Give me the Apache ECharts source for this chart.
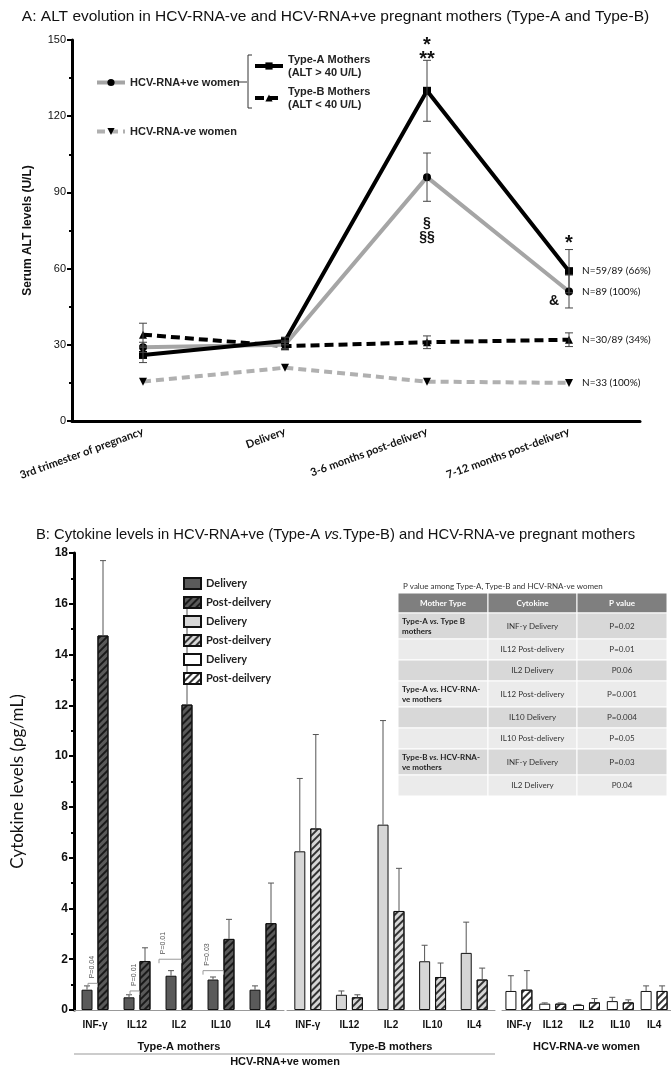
<!DOCTYPE html>
<html>
<head>
<meta charset="utf-8">
<script src="https://cdn.jsdelivr.net/npm/echarts@6/dist/echarts.min.js"></script>
<style>
html, body { margin: 0; padding: 0; background: #fff; }
#chart { width: 671px; height: 1069px; }
</style>
</head>
<body>
<div id="chart"></div>
<script>
// ---- panel A: ALT over time ----
const timepoints = ['3rd trimester of pregnancy', 'Delivery', '3-6 months post-delivery', '7-12 months post-delivery'];
const altTypeA = [26, 31.5, 130, 59];
const altTypeAErr = [3, 1.5, 12, 8.5];
const altPositive = [29, 30, 96, 51];
const altPositiveErr = [2, 1.5, 9.5, 6.5];
const altTypeB = [34, 29.5, 31, 32];
const altTypeBErr = [4.5, 1.5, 2.5, 2.7];
const altNegative = [15.5, 21, 15.5, 15];
const endNotes = ['N=59/89 (66%)', 'N=89 (100%)', 'N=30/89 (34%)', 'N=33 (100%)'];

// significance marks on panel A
const markCat = [2, 2, 3, 3];
const markValue = [145, 75, 70, 47];
const markText = ['*\n**', '§\n§§', '*', '&'];

// ---- panel B: cytokines ----
const cytokines = ['INF-γ', 'IL12', 'IL2', 'IL10', 'IL4'];
const typeADelivery = [0.8, 0.5, 1.35, 1.2, 0.8];
const typeADeliveryErr = [0.15, 0.1, 0.2, 0.1, 0.15];
const typeAPost = [14.75, 1.93, 12.03, 2.8, 3.42];
const typeAPostErr = [2.95, 0.52, 4.0, 0.77, 1.58];
const typeBDelivery = [6.25, 0.6, 7.3, 1.92, 2.25];
const typeBDeliveryErr = [2.87, 0.15, 4.1, 0.63, 1.21];
const typeBPost = [7.15, 0.5, 3.9, 1.3, 1.2];
const typeBPostErr = [3.7, 0.1, 1.68, 0.55, 0.45];
const negDelivery = [0.75, 0.25, 0.2, 0.35, 0.75];
const negDeliveryErr = [0.6, 0.03, 0.02, 0.15, 0.2];
const negPost = [0.8, 0.25, 0.3, 0.3, 0.75];
const negPostErr = [0.75, 0.03, 0.15, 0.1, 0.2];

// P values between delivery / post bars of type-A
const pCat = [0, 1, 2, 3];
const pLevel = [1.05, 0.75, 2.0, 1.55];
const pShift = [-3, -3, -16, -14];
const pText = ['P=0.04', 'P=0.01', 'P=0.01', 'P=0.03'];

// table of P values
const tableHead = ['Mother Type', 'Cytokine', 'P value'];
const tableGroup = ['Type-A|vs.|Type B|mothers', '', '', 'Type-A|vs.|HCV-RNA-|ve mothers', '', '', 'Type-B|vs.|HCV-RNA-|ve mothers', ''];
const tableCytokine = ['INF-γ Delivery', 'IL12 Post-delivery', 'IL2 Delivery', 'IL12 Post-delivery', 'IL10 Delivery', 'IL10 Post-delivery', 'INF-γ Delivery', 'IL2 Delivery'];
const tablePValue = ['P=0.02', 'P=0.01', 'P0.06', 'P=0.001', 'P=0.004', 'P=0.05', 'P=0.03', 'P0.04'];

const ARIAL = '"Liberation Sans", Arial, sans-serif';
const CALI = 'Lato, "Open Sans", sans-serif';

const chart = echarts.init(document.getElementById('chart'));

const hatch = color => ({
    symbol: 'rect', symbolSize: 1,
    dashArrayX: [1, 0], dashArrayY: [1.4, 3],
    rotation: -Math.PI / 4, color: color
});

const lastLabel = (arr, note) => arr.map((v, i) => i === arr.length - 1
    ? { value: v, label: { show: true, position: 'right', distance: 9, formatter: note, fontFamily: CALI, fontSize: 10, color: '#111' } }
    : v);

function barSeries(name, idx, data, color, hatched, hatchColor) {
    const itemStyle = { color: color, borderColor: '#111', borderWidth: 1 };
    if (hatched) itemStyle.decal = hatch(hatchColor);
    return {
        name: name, type: 'bar', xAxisIndex: idx, yAxisIndex: idx, data: data,
        barWidth: 11, barGap: '45%', itemStyle: itemStyle, z: 2
    };
}

function errorSeries(idx, del, delErr, post, postErr) {
    const data = [];
    del.forEach((v, i) => data.push([i, v, delErr[i], -1]));
    post.forEach((v, i) => data.push([i, v, postErr[i], 1]));
    return {
        type: 'custom', xAxisIndex: idx, yAxisIndex: idx, data: data, z: 3, silent: true,
        encode: { x: 0, y: 1 },
        renderItem: (params, api) => {
            const base = api.coord([api.value(0), api.value(1)]);
            const top = api.coord([api.value(0), api.value(1) + api.value(2)]);
            const x = base[0] + api.value(3) * 8;
            const st = { stroke: '#555', lineWidth: 1 };
            return { type: 'group', children: [
                { type: 'line', shape: { x1: x, y1: base[1], x2: x, y2: top[1] }, style: st },
                { type: 'line', shape: { x1: x - 3, y1: top[1], x2: x + 3, y2: top[1] }, style: st }
            ] };
        }
    };
}

// error bars for panel A lines
const altErrData = [];
[[altTypeA, altTypeAErr], [altPositive, altPositiveErr], [altTypeB, altTypeBErr]].forEach(pair => {
    pair[0].forEach((v, i) => altErrData.push([i, v, pair[1][i]]));
});

// table graphics
function buildTable() {
    const x0 = 398, y0 = 593;
    const colW = [90, 89, 90];
    const headH = 20;
    const rowH = [26, 21, 21, 26, 21, 21, 26, 21];
    const kids = [];
    kids.push({ type: 'text', x: x0 + 5, y: y0 - 7, style: { text: 'P value among Type-A, Type-B and HCV-RNA-ve women', font: '8px ' + CALI, fill: '#333', textVerticalAlign: 'middle' } });
    let cx = x0;
    tableHead.forEach((h, c) => {
        kids.push({ type: 'rect', shape: { x: cx, y: y0, width: colW[c], height: headH }, style: { fill: '#7f7f7f', stroke: '#fff', lineWidth: 1 } });
        kids.push({ type: 'text', x: cx + colW[c] / 2, y: y0 + headH / 2, style: { text: h, font: 'bold 8px ' + CALI, fill: '#fff', textAlign: 'center', textVerticalAlign: 'middle' } });
        cx += colW[c];
    });
    let cy = y0 + headH;
    rowH.forEach((h, r) => {
        const fill = r % 2 === 0 ? '#d8d8d8' : '#ebebeb';
        let rx = x0;
        colW.forEach(w => {
            kids.push({ type: 'rect', shape: { x: rx, y: cy, width: w, height: h }, style: { fill: fill, stroke: '#fff', lineWidth: 1 } });
            rx += w;
        });
        if (tableGroup[r]) {
            const p = tableGroup[r].split('|');
            kids.push({ type: 'text', x: x0 + 4, y: cy + 3, style: {
                text: '{b|' + p[0] + ' }{i|' + p[1] + '}{b| ' + p[2] + '}\n{b|' + p[3] + '}',
                rich: {
                    b: { font: 'bold 8px ' + CALI, fill: '#222', lineHeight: 10 },
                    i: { font: 'italic bold 8px ' + CALI, fill: '#222', lineHeight: 10 }
                },
                textVerticalAlign: 'top'
            } });
        }
        kids.push({ type: 'text', x: x0 + colW[0] + colW[1] / 2, y: cy + h / 2, style: { text: tableCytokine[r], font: '8px ' + CALI, fill: '#333', textAlign: 'center', textVerticalAlign: 'middle' } });
        kids.push({ type: 'text', x: x0 + colW[0] + colW[1] + colW[2] / 2, y: cy + h / 2, style: { text: tablePValue[r], font: '8px ' + CALI, fill: '#333', textAlign: 'center', textVerticalAlign: 'middle' } });
        cy += h;
    });
    return { type: 'group', children: kids };
}

const bGridTop = 553, bGridH = 457;
const yAxisB = (idx, show) => ({
    type: 'value', gridIndex: idx, min: 0, max: 18, interval: 2, show: show,
    axisLine: { show: true, lineStyle: { color: '#000', width: 3 } },
    axisTick: { show: true, length: 5, lineStyle: { width: 2, color: '#000' } },
    minorTick: { show: true, splitNumber: 2, length: 3, lineStyle: { width: 2, color: '#000' } },
    splitLine: { show: false },
    axisLabel: { fontSize: 12, fontWeight: 'bold', color: '#111', margin: 6 },
    name: show ? 'Cytokine levels (ρg/mL)' : '', nameLocation: 'middle', nameGap: 48,
    nameTextStyle: { fontFamily: CALI, fontSize: 17, color: '#111' }
});
const xAxisB = (idx, groupName) => ({
    type: 'category', gridIndex: idx, data: cytokines, position: 'bottom', offset: 25,
    axisLine: { show: true, lineStyle: { color: '#999', width: 1 } },
    axisTick: { show: false },
    axisLabel: { inside: true, margin: 5, fontSize: 10, fontWeight: 'bold', color: '#111' },
    name: groupName, nameLocation: 'middle', nameGap: 6,
    nameTextStyle: { fontSize: 11, fontWeight: 'bold', color: '#111', verticalAlign: 'top' }
});

const legendText = { fontFamily: ARIAL, fontSize: 11, fontWeight: 'bold', color: '#222', lineHeight: 13 };

const option = {
    animation: false,
    backgroundColor: '#fff',
    textStyle: { fontFamily: ARIAL },
    title: [
        { text: 'A: ALT evolution in HCV-RNA-ve and HCV-RNA+ve pregnant mothers (Type-A and Type-B)', left: 'center', top: 4,
          textStyle: { fontSize: 15.5, fontWeight: 'normal', color: '#111', fontFamily: ARIAL } },
        { text: '{n|B: Cytokine levels in HCV-RNA+ve (Type-A }{i|vs.}{n|Type-B) and HCV-RNA-ve pregnant mothers}', left: 'center', top: 522,
          textStyle: { fontWeight: 'normal', rich: {
              n: { fontSize: 14.8, fontWeight: 'normal', color: '#111', fontFamily: ARIAL },
              i: { fontSize: 14.8, fontWeight: 'normal', color: '#111', fontFamily: ARIAL, fontStyle: 'italic' }
          } } }
    ],
    legend: [
        { data: ['HCV-RNA+ve women'], left: 90, top: 71, itemWidth: 28, itemHeight: 9, selectedMode: false,
          lineStyle: { width: 4 }, textStyle: legendText },
        { data: ['Type-A Mothers'], left: 248, top: 48, itemWidth: 28, itemHeight: 9, selectedMode: false,
          lineStyle: { width: 4 }, textStyle: legendText, formatter: n => n + '\n(ALT > 40 U/L)' },
        { data: ['Type-B Mothers'], left: 248, top: 80, itemWidth: 28, itemHeight: 9, selectedMode: false,
          lineStyle: { width: 4 }, textStyle: legendText, formatter: n => n + '\n(ALT < 40 U/L)' },
        { data: ['HCV-RNA-ve women'], left: 90, top: 120, itemWidth: 28, itemHeight: 9, selectedMode: false,
          lineStyle: { width: 4 }, textStyle: legendText },
        { data: ['A Delivery', 'A Post-deilvery', 'B Delivery', 'B Post-deilvery', 'N Delivery', 'N Post-deilvery'],
          orient: 'vertical', left: 178, top: 572, itemWidth: 17, itemHeight: 11, itemGap: 6, selectedMode: false,
          icon: 'rect',
          formatter: n => n.slice(2),
          textStyle: { fontFamily: CALI, fontSize: 11, fontWeight: 'bold', color: '#222', lineHeight: 12 } }
    ],
    grid: [
        { left: 72, right: 31, top: 40, height: 381 },
        { left: 74, width: 210, top: bGridTop, height: bGridH },
        { left: 287, width: 208, top: bGridTop, height: bGridH },
        { left: 502, width: 176, top: bGridTop, height: bGridH }
    ],
    xAxis: [
        { type: 'category', gridIndex: 0, data: timepoints,
          axisLine: { lineStyle: { color: '#000', width: 3 } },
          axisTick: { alignWithLabel: true, length: 6, lineStyle: { width: 2, color: '#000' } },
          axisLabel: { rotate: 20, margin: 10, fontFamily: CALI, fontSize: 11, fontWeight: 'bold', color: '#111' } },
        xAxisB(1, 'Type-A mothers'),
        xAxisB(2, 'Type-B mothers'),
        xAxisB(3, 'HCV-RNA-ve women')
    ],
    yAxis: [
        { type: 'value', gridIndex: 0, min: 0, max: 150, interval: 30,
          axisLine: { show: true, lineStyle: { color: '#000', width: 3 } },
          axisTick: { show: true, length: 5, lineStyle: { width: 2, color: '#000' } },
          minorTick: { show: true, splitNumber: 2, length: 3, lineStyle: { width: 2, color: '#000' } },
          splitLine: { show: false },
          axisLabel: { fontSize: 11, color: '#111', margin: 6 },
          name: 'Serum ALT levels (U/L)', nameLocation: 'middle', nameGap: 38,
          nameTextStyle: { fontSize: 12, fontWeight: 'bold', color: '#111' } },
        yAxisB(1, true),
        yAxisB(2, false),
        yAxisB(3, false)
    ],
    series: [
        { name: 'HCV-RNA-ve women', type: 'line', xAxisIndex: 0, yAxisIndex: 0,
          data: lastLabel(altNegative, endNotes[3]),
          symbol: 'triangle', symbolRotate: 180, symbolSize: 8,
          lineStyle: { color: '#b0b0b0', width: 4, type: [8, 5] }, itemStyle: { color: '#000' }, z: 3 },
        { name: 'Type-B Mothers', type: 'line', xAxisIndex: 0, yAxisIndex: 0,
          data: lastLabel(altTypeB, endNotes[2]),
          symbol: 'triangle', symbolSize: 8,
          lineStyle: { color: '#000', width: 4, type: [9, 5] }, itemStyle: { color: '#000' }, z: 4 },
        { name: 'HCV-RNA+ve women', type: 'line', xAxisIndex: 0, yAxisIndex: 0,
          data: lastLabel(altPositive, endNotes[1]),
          symbol: 'circle', symbolSize: 8,
          lineStyle: { color: '#a5a5a5', width: 4 }, itemStyle: { color: '#000' }, z: 4 },
        { name: 'Type-A Mothers', type: 'line', xAxisIndex: 0, yAxisIndex: 0,
          data: lastLabel(altTypeA, endNotes[0]),
          symbol: 'rect', symbolSize: 8,
          lineStyle: { color: '#000', width: 4 }, itemStyle: { color: '#000' }, z: 5 },
        { type: 'custom', xAxisIndex: 0, yAxisIndex: 0, data: altErrData, z: 6, silent: true,
          encode: { x: 0, y: 1 },
          renderItem: (params, api) => {
              const lo = api.coord([api.value(0), api.value(1) - api.value(2)]);
              const hi = api.coord([api.value(0), api.value(1) + api.value(2)]);
              const x = lo[0];
              const st = { stroke: '#444', lineWidth: 1 };
              return { type: 'group', children: [
                  { type: 'line', shape: { x1: x, y1: lo[1], x2: x, y2: hi[1] }, style: st },
                  { type: 'line', shape: { x1: x - 4, y1: lo[1], x2: x + 4, y2: lo[1] }, style: st },
                  { type: 'line', shape: { x1: x - 4, y1: hi[1], x2: x + 4, y2: hi[1] }, style: st }
              ] };
          } },
        { type: 'custom', xAxisIndex: 0, yAxisIndex: 0, z: 7, silent: true,
          data: markCat.map((c, i) => [c, markValue[i]]),
          encode: { x: 0, y: 1 },
          renderItem: (params, api) => {
              const p = api.coord([api.value(0), api.value(1)]);
              const t = markText[params.dataIndex];
              const isStar = t.indexOf('*') >= 0;
              const dx = t === '&' ? -15 : 0;
              return { type: 'text', x: p[0] + dx, y: p[1], style: {
                  text: t, textAlign: 'center', textVerticalAlign: 'middle',
                  font: isStar ? 'bold 20px ' + ARIAL : 'bold 14px ' + ARIAL,
                  lineHeight: 14, fill: '#111'
              } };
          } },

        barSeries('A Delivery', 1, typeADelivery, '#5a5a5a', false),
        barSeries('A Post-deilvery', 1, typeAPost, '#5a5a5a', true, '#1a1a1a'),
        barSeries('B Delivery', 2, typeBDelivery, '#d6d6d6', false),
        barSeries('B Post-deilvery', 2, typeBPost, '#d6d6d6', true, '#333'),
        barSeries('N Delivery', 3, negDelivery, '#ffffff', false),
        barSeries('N Post-deilvery', 3, negPost, '#ffffff', true, '#333'),
        errorSeries(1, typeADelivery, typeADeliveryErr, typeAPost, typeAPostErr),
        errorSeries(2, typeBDelivery, typeBDeliveryErr, typeBPost, typeBPostErr),
        errorSeries(3, negDelivery, negDeliveryErr, negPost, negPostErr),
        { type: 'custom', xAxisIndex: 1, yAxisIndex: 1, z: 4, silent: true,
          data: pCat.map((c, i) => [c, pLevel[i]]),
          encode: { x: 0, y: 1 },
          renderItem: (params, api) => {
              const p = api.coord([api.value(0), api.value(1)]);
              const tx = p[0] + pShift[params.dataIndex];
              const xl = tx - 4, xr = p[0] + 2.5;
              const st = { stroke: '#999', lineWidth: 1, fill: null };
              return { type: 'group', children: [
                  { type: 'polyline', shape: { points: [[xl, p[1] + 4], [xl, p[1]], [xr, p[1]], [xr, p[1] + 4]] }, style: st },
                  { type: 'text', x: tx, y: p[1] - 5, rotation: Math.PI / 2, style: {
                      text: pText[params.dataIndex], font: '7px ' + ARIAL, fill: '#555',
                      textAlign: 'left', textVerticalAlign: 'middle' } }
              ] };
          } }
    ],
    graphic: [
        { type: 'polyline', shape: { points: [[239, 82], [247, 82]] }, style: { stroke: '#333', lineWidth: 1 } },
        { type: 'polyline', shape: { points: [[252, 55], [248, 55], [248, 108], [252, 108]] }, style: { stroke: '#333', lineWidth: 1, fill: null } },
        { type: 'line', shape: { x1: 74, y1: 1054, x2: 495, y2: 1054 }, style: { stroke: '#999', lineWidth: 1 } },
        { type: 'text', x: 285, y: 1062, style: { text: 'HCV-RNA+ve women', font: 'bold 11px ' + ARIAL, fill: '#111', textAlign: 'center', textVerticalAlign: 'middle' } },
        buildTable()
    ]
};

chart.setOption(option);
window.addEventListener('resize', () => chart.resize());
</script>
</body>
</html>
